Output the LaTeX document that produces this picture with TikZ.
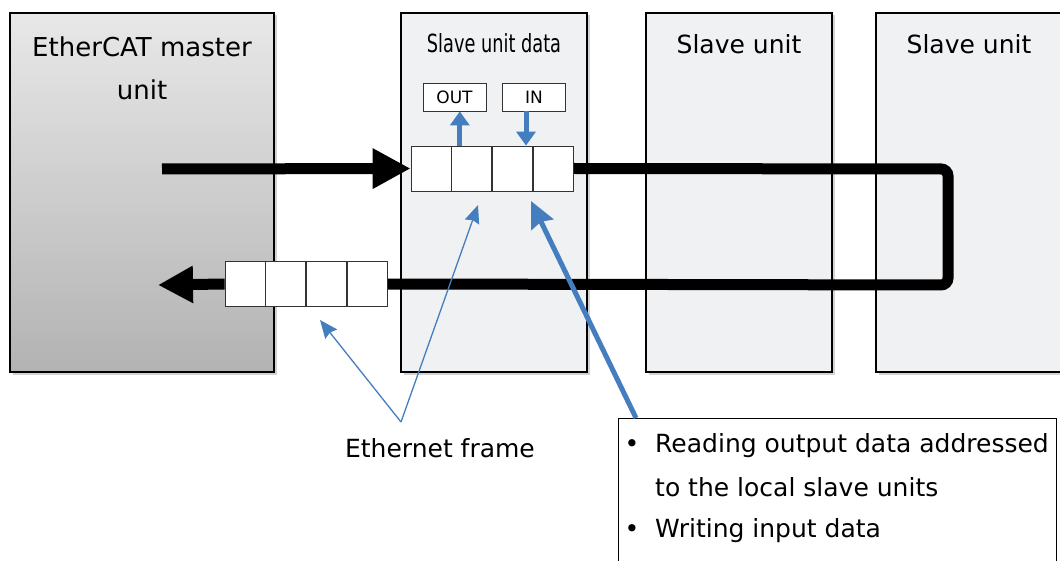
\documentclass[tikz,border=0pt]{standalone}
\usepackage{fontspec}
\setmainfont{DejaVu Sans}
\usetikzlibrary{shadows,arrows.meta}
\definecolor{blu}{RGB}{68,126,190}
\definecolor{slavefill}{RGB}{240,241,243}
\begin{document}
\begin{tikzpicture}[x=1pt,y=-1pt,
  unitbox/.style={draw=black, line width=1.2pt, inner sep=0,
    drop shadow={shadow xshift=2.5pt,shadow yshift=-2.5pt,opacity=0.35},
    minimum width=186, minimum height=359},
  cell/.style={draw=black!80, fill=white, line width=0.8pt, minimum width=40, minimum height=45, inner sep=0},
  iobox/.style={draw=black!80, fill=white, line width=0.8pt, minimum width=63, minimum height=28, inner sep=0,
    font=\fontsize{17}{20}\selectfont},
  big/.style={font=\fontsize{25}{30}\selectfont},
  bus/.style={line width=11pt, draw=black},
  bluearrow/.style={draw=blu, line width=5pt, -{Triangle[length=14pt,width=19pt]}},
  thinblue/.style={draw=blu, line width=1.3pt, -{Stealth[length=18pt,width=15pt,inset=2pt]}},
  thickblue/.style={draw=blu, line width=5pt, -{Stealth[length=26pt,width=24pt,inset=3pt]}},
]
\useasboundingbox (0,0) rectangle (1060,561);
\fill[white] (0,0) rectangle (1060,561);

% units
\node[unitbox, minimum width=264, top color=black!9, bottom color=black!30] (master) at (142,192.5) {};
\node[unitbox, fill=slavefill] (sdata) at (494,192.5) {};
\node[unitbox, fill=slavefill] (s2) at (739,192.5) {};
\node[unitbox, fill=slavefill] (s3) at (969,192.5) {};

\node[big, anchor=base, font=\fontsize{26}{30}\selectfont] (mt1) at (142,57) {EtherCAT master};
\node[big, anchor=base, font=\fontsize{26}{30}\selectfont] (mt2) at (142,100) {unit};
\node[big, anchor=base] (sdt) at (494,53) {\scalebox{0.71}[1]{Slave unit data}};
\node[big, anchor=base] (s2t) at (739,54) {Slave unit};
\node[big, anchor=base] (s3t) at (969,54) {Slave unit};

% IO boxes
\node[iobox] (OUT) at (454.5,97) {OUT};
\node[iobox] (IN) at (534,97) {IN};

% frame cells (top)
\node[cell] (t1) at (431,168.5) {};
\node[cell, anchor=west] (t2) at (t1.east) {};
\node[cell, anchor=west] (t3) at (t2.east) {};
\node[cell, anchor=west] (t4) at (t3.east) {};
% frame cells (bottom)
\node[cell] (b1) at (245,284) {};
\node[cell, anchor=west] (b2) at (b1.east) {};
\node[cell, anchor=west] (b3) at (b2.east) {};
\node[cell, anchor=west] (b4) at (b3.east) {};

% bus
\coordinate (src) at (162,169);
\coordinate (dst) at (158,285);
\coordinate (c1) at (948,169);
\coordinate (c2) at (948,285);
\draw[bus, -{Triangle[length=38pt,width=38pt]}] (src) -- (t1.west);
\draw[bus, rounded corners=7pt] (t4.east) -- (c1) -- (c2) -- (b4.east);
\draw[bus, -{Triangle[length=35pt,width=35pt]}] (b1.west) -- (dst);

% IO arrows
\draw[bluearrow] ([xshift=-12pt]t2.north) -- ([xshift=-12pt]t2.north |- OUT.south);
\draw[bluearrow] ([xshift=-8pt]IN.south) -- ([xshift=-8pt]IN.south |- t3.north);

% Ethernet frame label
\node[big, anchor=base] (eth) at (440,457) {Ethernet frame};
\coordinate (apex) at (401,422);
\coordinate (fr1) at (320,320);
\coordinate (fr2) at (478,205);
\draw[thinblue] (apex) -- (fr1);
\draw[thinblue] (apex) -- (fr2);

% callout
\node[draw=black, line width=1pt, fill=white, minimum width=438, minimum height=160, anchor=north west, inner sep=0] (callout) at (618,418) {};
\coordinate (tgt) at (531,201);
\draw[thickblue] ([xshift=18pt]callout.north west) -- (tgt);
\node[big, anchor=base] (bl1) at (632,452) {•};
\node[big, anchor=base west, inner sep=0] (l1) at (655,452) {Reading output data addressed};
\node[big, anchor=base west, inner sep=0] (l2) at (655,496) {to the local slave units};
\node[big, anchor=base] (bl3) at (632,537) {•};
\node[big, anchor=base west, inner sep=0] (l3) at (655,537) {Writing input data};
\end{tikzpicture}
\end{document}
